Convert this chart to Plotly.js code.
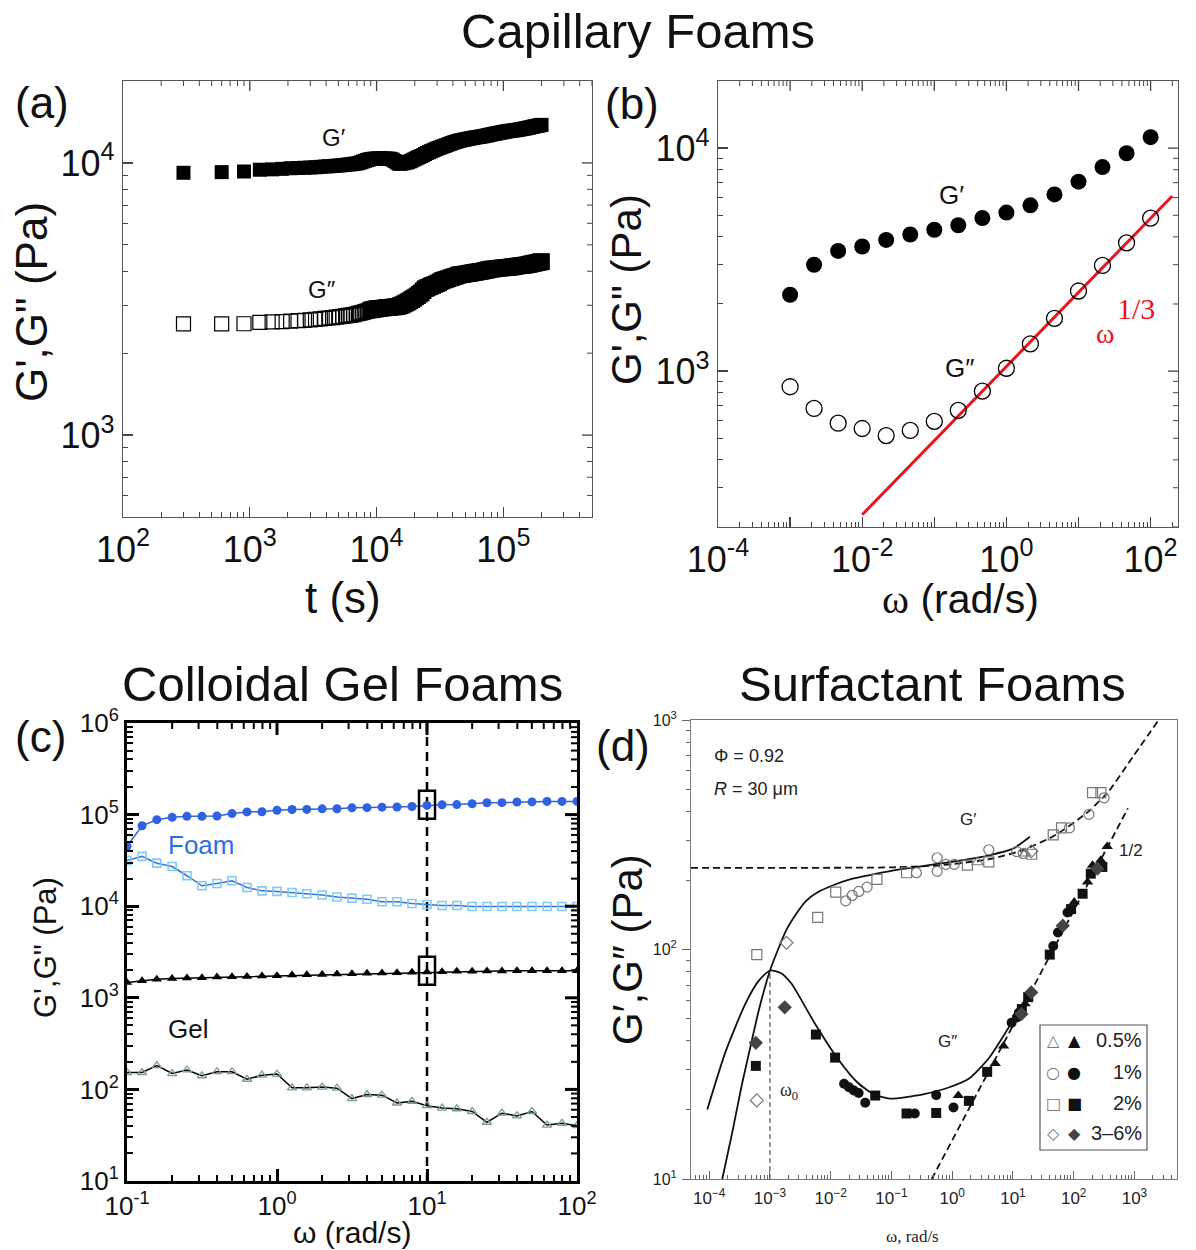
<!DOCTYPE html>
<html><head><meta charset="utf-8">
<script src="https://cdn.plot.ly/plotly-3.0.1.min.js"></script>
<style>html,body{margin:0;padding:0;background:#fff}#chart{width:1196px;height:1250px}</style>
</head><body><div id="chart"></div>
<script>
// ================= DATA =================
// (a) Capillary foam: time sweep  t (s), G' and G'' (Pa)
const aTime = [
 300, 600, 900, 1200, 1500, 1800, 2100, 2400, 2700, 3000,
 3300, 3600, 3900, 4200, 4500, 4800, 5100, 5400, 5700, 6000,
 6300, 6600, 6900, 7200, 7500, 7800, 8100, 8400, 8700, 9000,
 9300, 9600, 9900, 10200, 10500, 10900, 11300, 11700, 12100, 12500,
 12900, 13400, 13900, 14400, 14900, 15400, 15900, 16500, 17100, 17700,
 18300, 18900, 19600, 20300, 21000, 21700, 22500, 23300, 24100, 25000,
 25900, 26800, 27700, 28700, 29700, 30700, 31800, 32900, 34100, 35300,
 36500, 37800, 39100, 40500, 41900, 43400, 44900, 46500, 48100, 49800,
 51500, 53300, 55200, 57100, 59100, 61200, 63300, 65500, 67800, 70200,
 72600, 75100, 77700, 80400, 83200, 86100, 89100, 92200, 95400, 98700,
 102000, 105600, 109300, 113100, 117000, 121100, 125300, 129700, 134200, 138900,
 143700, 148700, 153900, 159300, 164800, 170600, 176500, 182700, 189000, 195600,
 200000];
const aGp = [
 9200, 9250, 9300, 9440, 9470, 9510, 9560, 9580, 9600, 9620,
 9640, 9670, 9700, 9720, 9740, 9770, 9790, 9820, 9840, 9870,
 9890, 9920, 9950, 9980, 10050, 10120, 10180, 10240, 10290, 10330,
 10350, 10360, 10370, 10380, 10390, 10390, 10380, 10380, 10370, 10360,
 10350, 10280, 10170, 10050, 9950, 9930, 9960, 9990, 10030, 10060,
 10130, 10200, 10290, 10370, 10450, 10520, 10600, 10680, 10780, 10870,
 10960, 11040, 11110, 11190, 11270, 11340, 11400, 11470, 11540, 11610,
 11680, 11750, 11820, 11890, 11950, 12010, 12070, 12110, 12150, 12190,
 12230, 12270, 12310, 12350, 12390, 12420, 12450, 12480, 12510, 12550,
 12590, 12630, 12680, 12730, 12770, 12810, 12850, 12890, 12930, 12970,
 13010, 13050, 13090, 13120, 13140, 13170, 13200, 13230, 13270, 13310,
 13350, 13390, 13430, 13480, 13530, 13580, 13630, 13680, 13720, 13770,
 13800];
const aGpp = [
 2560, 2560, 2565, 2595, 2605, 2612, 2624, 2632, 2640, 2650,
 2662, 2672, 2684, 2693, 2702, 2712, 2722, 2732, 2742, 2752,
 2760, 2772, 2785, 2798, 2812, 2826, 2840, 2855, 2868, 2880,
 2892, 2900, 2908, 2915, 2920, 2926, 2931, 2936, 2941, 2946,
 2950, 2954, 2958, 2965, 2975, 2990, 3010, 3035, 3060, 3085,
 3115, 3145, 3180, 3215, 3250, 3290, 3330, 3390, 3447, 3475,
 3500, 3525, 3550, 3575, 3600, 3625, 3660, 3695, 3715, 3735,
 3755, 3775, 3795, 3815, 3835, 3858, 3878, 3887, 3896, 3905,
 3915, 3925, 3935, 3948, 3960, 3970, 3980, 3990, 4000, 4015,
 4030, 4045, 4058, 4070, 4078, 4086, 4094, 4102, 4110, 4116,
 4121, 4126, 4131, 4140, 4150, 4160, 4170, 4180, 4190, 4199,
 4206, 4212, 4225, 4240, 4255, 4270, 4285, 4300, 4315, 4330,
 4340];
const aXTickVals = [1e2, 1e3, 1e4, 1e5];
const aXTickText = ['10<sup>2</sup>', '10<sup>3</sup>', '10<sup>4</sup>', '10<sup>5</sup>'];
const aYTickVals = [1e3, 1e4];
const aYTickText = ['10<sup>3</sup>', '10<sup>4</sup>'];

// (b) Capillary foam: frequency sweep
const bOmega = [0.001, 0.00215, 0.00464, 0.01, 0.0215, 0.0464, 0.1, 0.215, 0.464, 1, 2.15, 4.64, 10, 21.5, 46.4, 100];
const bGp  = [2200, 3000, 3460, 3620, 3875, 4100, 4305, 4510, 4855, 5140, 5540, 6200, 7070, 8225, 9485, 11200];
const bGpp = [851, 680, 584, 553, 514, 542, 595, 667, 813, 1030, 1326, 1725, 2287, 2977, 3760, 4855];
const bFitOmega = [0.01, 200];
const bFitG = [227, 6100];
const bXTickVals = [1e-4, 1e-3, 1e-2, 1e-1, 1, 10, 100];
const bXTickText = ['10<sup>-4</sup>', '', '10<sup>-2</sup>', '', '10<sup>0</sup>', '', '10<sup>2</sup>'];
const bYTickVals = [1e3, 1e4];
const bYTickText = ['10<sup>3</sup>', '10<sup>4</sup>'];

// (c) Colloidal gel foams
const cOmega = [0.1, 0.126, 0.158, 0.2, 0.251, 0.316, 0.398, 0.501, 0.631, 0.794, 1, 1.26, 1.58, 2, 2.51, 3.16, 3.98, 5.01, 6.31, 7.94, 10, 12.6, 15.8, 20, 25.1, 31.6, 39.8, 50.1, 63.1, 79.4, 100];
const cFoamGp = [45000, 75500, 88000, 93400, 95800, 95800, 96500, 102600, 107000, 107500, 111700, 113600, 114000, 115600, 116000, 118600, 119000, 120600, 121000, 122700, 125900, 128000, 128500, 131400, 134800, 135000, 137100, 137500, 139400, 139400, 139400];
const cFoamGpp = [31600, 35000, 29500, 27100, 21500, 16700, 17700, 18960, 16000, 14700, 14500, 14100, 13700, 13250, 12600, 12200, 11900, 11200, 11200, 10700, 10440, 10170, 10170, 9910, 9910, 9910, 9910, 9910, 9910, 9910, 9910];
const cGelGp = [1468, 1531, 1599, 1626, 1640, 1654, 1683, 1697, 1711, 1726, 1740, 1770, 1785, 1801, 1816, 1832, 1848, 1864, 1880, 1896, 1912, 1929, 1945, 1945, 1962, 1962, 1979, 1979, 1979, 1979, 1979];
const cGelGpp = [153, 153, 182, 149, 163, 141, 156, 156, 129, 143, 147, 104, 104, 106, 103, 79.4, 88, 86.5, 71, 74, 66.4, 62.6, 61.5, 57.4, 43.8, 55, 51.4, 57.4, 40.8, 42.6, 40.2];
const cRefOmega = [10, 10];
const cRefG = [10, 1e6];
const cMarkOmega = [10, 10];
const cMarkG = [128000, 1980];
const cXTickVals = [0.1, 1, 10, 100];
const cXTickText = ['10<sup>-1</sup>', '10<sup>0</sup>', '10<sup>1</sup>', '10<sup>2</sup>'];
const cYTickVals = [10, 100, 1e3, 1e4, 1e5, 1e6];
const cYTickText = ['10<sup>1</sup>', '10<sup>2</sup>', '10<sup>3</sup>', '10<sup>4</sup>', '10<sup>5</sup>', '10<sup>6</sup>'];

// (d) Surfactant foams  (open = G', filled = G'')
const dOpenTriX = [2.6, 16];          const dOpenTriY = [240, 262];
const dOpenCirX = [0.0176, 0.0226, 0.029, 0.0397, 0.257, 0.565, 0.565, 0.79, 1.08, 4.0, 11.5, 14.7, 85, 178, 316];
const dOpenCirY = [163, 172, 179, 187, 216, 251, 219, 235, 235, 272, 267, 262, 339, 388, 458];
const dOpenSqX = [6.07e-4, 6.1e-3, 0.0121, 0.0576, 0.177, 1.78, 4.0, 20.3, 46, 63, 204, 280];
const dOpenSqY = [95, 138, 178, 202, 216, 233, 241, 260, 316, 339, 483, 483];
const dOpenDiaX = [6.07e-4, 1.87e-3, 20];
const dOpenDiaY = [22, 107, 268];
const dFillTriX = [1.26, 5.1, 7, 15.8, 102, 169, 204, 278, 355];
const dFillTriY = [23.1, 31.9, 38, 58, 161, 197, 233, 245, 281];
const dFillCirX = [0.0166, 0.02, 0.024, 0.0288, 0.037, 0.242, 0.545, 1.05, 9.5, 11.6, 12.5, 46, 55, 79];
const dFillCirY = [26, 25.1, 24.3, 23.7, 21.5, 19.3, 23.2, 20.5, 48, 50.6, 53, 103.5, 118.5, 145];
const dFillSqX = [5.85e-4, 5.7e-3, 0.0118, 0.054, 0.177, 0.545, 1.88, 3.76, 14, 17.8, 40.3, 90.5, 140, 191, 296];
const dFillSqY = [31.1, 42.6, 33.8, 23.1, 19.3, 19.4, 21.9, 29.3, 55, 62, 95, 150, 175, 214, 229];
const dFillDiaX = [5.85e-4, 1.75e-3, 13.8, 20, 66, 245];
const dFillDiaY = [39.2, 56, 52.4, 65, 127, 225];
const dGpFitX = [1.64e-4, 2.4e-4, 3.47e-4, 4.8e-4, 6.5e-4, 8.2e-4, 1e-3, 1.4e-3, 1.87e-3, 2.8e-3, 3.94e-3, 6e-3, 0.0107, 0.022, 0.0478, 0.1, 0.213, 0.5, 1.22, 4.27, 10, 19];
const dGpFitY = [10, 16, 26, 38, 54, 68, 81, 102, 122, 145, 163, 177, 190, 203, 212, 220, 227, 235, 243, 258, 275, 310];
const dGppFitX = [9.3e-5, 1.86e-4, 3.93e-4, 6.5e-4, 1e-3, 1.5e-3, 2.25e-3, 5.38e-3, 0.0129, 0.0273, 0.0509, 0.095, 0.33, 0.896, 1.89, 4.0, 8.46, 19];
const dGppFitY = [20.1, 35.9, 58, 73, 81, 79, 71.1, 48, 33.6, 26.4, 23.4, 22.4, 23.4, 25.1, 27.4, 33.6, 45.6, 64];
const dGpDashX = [5e-5, 0.1, 0.66, 4.3, 15, 51, 178, 380, 800, 2500];
const dGpDashY = [227, 228, 233, 248, 272, 316, 401, 491, 650, 1000];
const dHalfX = [0.46, 780];
const dHalfY = [10, 412];
const dOmega0X = [1e-3, 1e-3];
const dOmega0Y = [10, 81];
const dXTickVals = [1e-4, 1e-3, 1e-2, 1e-1, 1, 10, 100, 1000];
const dXTickText = ['10<sup>−4</sup>', '10<sup>−3</sup>', '10<sup>−2</sup>', '10<sup>−1</sup>', '10<sup>0</sup>', '10<sup>1</sup>', '10<sup>2</sup>', '10<sup>3</sup>'];
const dYTickVals = [10, 100, 1000];
const dYTickText = ['10<sup>1</sup>', '10<sup>2</sup>', '10<sup>3</sup>'];
const dLegendLabels = ['0.5%', '1%', '2%', '3–6%'];
const dLegendOpen = ['△', '○', '□', '◇'];
const dLegendFilled = ['▲', '●', '■', '◆'];

// ================= RENDERING =================
const W = 1196, H = 1250;
const px = x => x / W, py = y => 1 - y / H;
const SANS = 'Liberation Sans, Arial, Helvetica, sans-serif';
const SERIF = 'Liberation Serif, Times New Roman, serif';
const SYM = 'DejaVu Sans, sans-serif';

// panel boxes in page pixels: [left, right, top, bottom]
const boxA = [123, 592, 81, 517];
const boxB = [718, 1178, 81, 527];
const boxC = [127, 577, 723, 1181];
const boxD = [691, 1177, 720, 1179];
const domX = b => [px(b[0]), px(b[1])];
const domY = b => [py(b[3]), py(b[2])];

const rangeA = {x: [2, 5.699], y: [2.699, 4.301]};
const rangeB = {x: [-4, 2.38], y: [2.301, 4.301]};
const rangeC = {x: [-1, 2], y: [1, 6]};

function minorVals(lo, hi) {
  const v = [];
  for (let e = lo; e < hi; e++) for (let m = 2; m <= 9; m++) v.push(m * Math.pow(10, e));
  return v;
}

function axis(o) {
  return Object.assign({
    type: 'log', showgrid: false, zeroline: false, showline: true,
    tickmode: 'array', fixedrange: true
  }, o);
}

const tickAB = {linecolor: '#555', linewidth: 1.3, ticks: 'inside', ticklen: 10, tickwidth: 1.3, tickcolor: '#444'};
const tickC = {linecolor: '#000', linewidth: 3, ticks: 'inside', ticklen: 12, tickwidth: 3, tickcolor: '#000'};

const mainAx = (st, fontSize, minorLen, minorW, dom, anchor, range, tv, tt, mlo, mhi) => axis(Object.assign({}, st, {
  domain: dom, anchor: anchor, range: range, tickvals: tv, ticktext: tt, mirror: true,
  tickfont: {family: SANS, size: fontSize, color: '#111'}, ticklabelstandoff: 0,
  minor: {ticks: 'inside', ticklen: minorLen, tickwidth: minorW, tickcolor: st.tickcolor, tickmode: 'array', tickvals: minorVals(mlo, mhi)}
}));

const layout = {
  width: W, height: H, margin: {l: 0, r: 0, t: 0, b: 0},
  paper_bgcolor: '#fff', plot_bgcolor: '#fff', showlegend: false,
  font: {family: SANS, color: '#111'},
  xaxis: mainAx(tickAB, 36, 5, 1, domX(boxA), 'y', rangeA.x, aXTickVals, aXTickText, 2, 6),
  yaxis: mainAx(tickAB, 36, 5, 1, domY(boxA), 'x', rangeA.y, aYTickVals, aYTickText, 2, 5),
  xaxis2: mainAx(tickAB, 36, 5, 1, domX(boxB), 'y2', rangeB.x, bXTickVals, bXTickText, -4, 3),
  yaxis2: mainAx(tickAB, 36, 5, 1, domY(boxB), 'x2', rangeB.y, bYTickVals, bYTickText, 2, 5),
  xaxis3: mainAx(tickC, 26, 6, 2, domX(boxC), 'y3', rangeC.x, cXTickVals, cXTickText, -1, 2),
  yaxis3: mainAx(tickC, 26, 6, 2, domY(boxC), 'x3', rangeC.y, cYTickVals, cYTickText, 1, 6),
  xaxis4: axis({domain: domX(boxD), anchor: 'y4', range: [-4.3, 3.7], tickvals: dXTickVals, ticktext: dXTickText,
    linecolor: '#777', linewidth: 1, mirror: true, ticks: 'inside', ticklen: 8, tickwidth: 1, tickcolor: '#666',
    tickfont: {family: SANS, size: 17, color: '#222'}, ticklabelstandoff: 4,
    minor: {ticks: 'inside', ticklen: 4, tickwidth: 1, tickcolor: '#666', tickmode: 'array', tickvals: minorVals(-5, 4)}}),
  yaxis4: axis({domain: domY(boxD), anchor: 'x4', range: [1, 3], tickvals: dYTickVals, ticktext: dYTickText,
    linecolor: '#777', linewidth: 1, mirror: true, ticks: 'outside', ticklen: 8, tickwidth: 1, tickcolor: '#666',
    tickfont: {family: SANS, size: 16, color: '#222'}, ticklabelstandoff: 2,
    minor: {ticks: 'outside', ticklen: 4, tickwidth: 1, tickcolor: '#666', tickmode: 'array', tickvals: minorVals(1, 3)}}),
  annotations: [],
  shapes: []
};

// mirrored tick marks on the top and right edges of panels (a), (b), (c)
function mirrorTicks(xr, yr, box, rng, xMaj, xMin, yMaj, yMin, majLen, minLen, majW, minW, color) {
  const inside = (v, r) => { const l = Math.log10(v); return l > r[0] + 1e-6 && l < r[1] - 1e-6; };
  const addX = (vals, len, w) => vals.filter(v => inside(v, rng.x)).forEach(v => layout.shapes.push({
    type: 'line', xref: xr, yref: 'paper', x0: v, x1: v, y0: py(box[2]), y1: py(box[2] + len), line: {color: color, width: w}}));
  const addY = (vals, len, w) => vals.filter(v => inside(v, rng.y)).forEach(v => layout.shapes.push({
    type: 'line', xref: 'paper', yref: yr, y0: v, y1: v, x0: px(box[1]), x1: px(box[1] - len), line: {color: color, width: w}}));
  addX(xMaj, majLen, majW); addX(xMin, minLen, minW);
  addY(yMaj, majLen, majW); addY(yMin, minLen, minW);
}
mirrorTicks('x', 'y', boxA, rangeA, aXTickVals, minorVals(2, 6), aYTickVals, minorVals(2, 5), 10, 5, 1.3, 1, '#444');
mirrorTicks('x2', 'y2', boxB, rangeB, bXTickVals, minorVals(-4, 3), bYTickVals, minorVals(2, 5), 10, 5, 1.3, 1, '#444');
mirrorTicks('x3', 'y3', boxC, rangeC, cXTickVals, minorVals(-1, 2), cYTickVals, minorVals(1, 6), 12, 6, 3, 2, '#000');

const ann = (o) => layout.annotations.push(Object.assign({showarrow: false, xanchor: 'center', yanchor: 'middle'}, o));
const pAnn = (x, y, text, size, extra) => ann(Object.assign({xref: 'paper', yref: 'paper', x: px(x), y: py(y), text: text, font: {family: SANS, size: size, color: '#111'}}, extra || {}));

// headings
pAnn(638, 31, 'Capillary Foams', 49);
pAnn(343, 684, 'Colloidal Gel Foams', 49);
pAnn(932, 684, 'Surfactant Foams', 49);
// panel letters
pAnn(42, 102, '(a)', 44);
pAnn(632, 104, '(b)', 44);
pAnn(40, 736, '(c)', 44);
pAnn(623, 745, '(d)', 44);
// axis titles
pAnn(31, 302, 'G\',G" (Pa)', 44, {textangle: -90});
pAnn(343, 597, 't (s)', 44);
pAnn(626, 290, 'G\',G" (Pa)', 42, {textangle: -90});
pAnn(960, 599, '<span style="font-family:Liberation Serif">ω</span> (rad/s)', 41);
pAnn(45, 948, 'G\',G" (Pa)', 31, {textangle: -90});
pAnn(352, 1232, 'ω (rad/s)', 30);
pAnn(627, 950, 'G′,G″ (Pa)', 42, {textangle: -90});
pAnn(912, 1236, 'ω, rad/s', 17, {font: {family: SERIF, size: 17, color: '#222'}});

// in-plot labels
const dAnn = (xr, yr, x, y, text, font, extra) => ann(Object.assign({xref: xr, yref: yr, x: x, y: y, text: text, font: font}, extra || {}));
dAnn('x', 'y', 3.667, 4.095, 'G′', {family: SANS, size: 24, color: '#111'});
dAnn('x', 'y', 3.57, 3.536, 'G″', {family: SANS, size: 24, color: '#111'});
dAnn('x2', 'y2', -0.763, 3.792, 'G′', {family: SANS, size: 26, color: '#111'});
dAnn('x2', 'y2', -0.656, 3.016, 'G″', {family: SANS, size: 26, color: '#111'});
dAnn('x2', 'y2', 1.37, 3.17, 'ω', {family: SERIF, size: 28, color: '#e8141c'});
dAnn('x2', 'y2', 1.80, 3.28, '1/3', {family: SERIF, size: 30, color: '#e8141c'});
dAnn('x3', 'y3', -0.74, 4.672, 'Foam', {family: SANS, size: 26, color: '#2f6ee0'}, {xanchor: 'left'});
dAnn('x3', 'y3', -0.74, 2.664, 'Gel', {family: SANS, size: 26, color: '#111'}, {xanchor: 'left'});
dAnn('x4', 'y4', -3.95, 2.845, 'Φ = 0.92', {family: SANS, size: 18, color: '#222'}, {xanchor: 'left'});
dAnn('x4', 'y4', -3.95, 2.699, '<i>R</i> = 30 μm', {family: SANS, size: 18, color: '#222'}, {xanchor: 'left'});
dAnn('x4', 'y4', 0.26, 2.568, 'G′', {family: SANS, size: 17, color: '#222'});
dAnn('x4', 'y4', -0.08, 1.60, 'G″', {family: SANS, size: 17, color: '#222'});
dAnn('x4', 'y4', 2.94, 2.433, '1/2', {family: SANS, size: 17, color: '#222'});
dAnn('x4', 'y4', -2.68, 1.38, 'ω<sub>0</sub>', {family: SERIF, size: 18, color: '#222'});

// (d) legend box
layout.shapes.push({type: 'rect', xref: 'paper', yref: 'paper', x0: px(1040), x1: px(1147), y0: py(1150), y1: py(1025), line: {color: '#555', width: 1.2}, fillcolor: 'rgba(0,0,0,0)'});
const legRows = [1040, 1072, 1103, 1133];
dLegendLabels.forEach((lab, i) => {
  pAnn(1053, legRows[i], dLegendOpen[i], 16, {font: {family: SYM, size: 16, color: '#777'}});
  pAnn(1074, legRows[i], dLegendFilled[i], 16, {font: {family: SYM, size: 16, color: i === 3 ? '#444' : '#111'}});
  pAnn(1144, legRows[i], lab, 20, {xanchor: 'right', font: {family: SANS, size: 20, color: '#222'}});
});

// (c) highlight rectangles around the omega = 10 rad/s points (16 x 28 px boxes)
const cPxPerDecX = (boxC[1] - boxC[0]) / 3, cPxPerDecY = (boxC[3] - boxC[2]) / 5;
cMarkOmega.forEach((w, i) => layout.shapes.push({type: 'rect', xref: 'x3', yref: 'y3',
  x0: w * Math.pow(10, -8 / cPxPerDecX), x1: w * Math.pow(10, 8 / cPxPerDecX),
  y0: cMarkG[i] * Math.pow(10, -14 / cPxPerDecY), y1: cMarkG[i] * Math.pow(10, 14 / cPxPerDecY),
  line: {color: '#000', width: 2.5}, fillcolor: 'rgba(0,0,0,0)'}));

// ---------- traces ----------
const traces = [];
const sc = (o) => traces.push(Object.assign({type: 'scatter', hoverinfo: 'skip'}, o));

// (a)  open-square outlines thicken where the sampling is dense so the band reads solid
const aOpenLine = aTime.map(t => (t < 9000 ? 1.2 : 2.6));
sc({x: aTime, y: aGpp, xaxis: 'x', yaxis: 'y', mode: 'markers', marker: {symbol: 'square-open', size: 14, color: '#000', line: {width: aOpenLine, color: '#000'}}});
sc({x: aTime, y: aGp, xaxis: 'x', yaxis: 'y', mode: 'markers', marker: {symbol: 'square', size: 14, color: '#000', line: {width: 0}}});
// (b)
sc({x: bFitOmega, y: bFitG, xaxis: 'x2', yaxis: 'y2', mode: 'lines', line: {color: '#e8141c', width: 3}});
sc({x: bOmega, y: bGpp, xaxis: 'x2', yaxis: 'y2', mode: 'markers', marker: {symbol: 'circle-open', size: 16, color: '#000', line: {width: 1.3, color: '#000'}}});
sc({x: bOmega, y: bGp, xaxis: 'x2', yaxis: 'y2', mode: 'markers', marker: {symbol: 'circle', size: 16, color: '#000', line: {width: 0}}});
// (c)
sc({x: cRefOmega, y: cRefG, xaxis: 'x3', yaxis: 'y3', mode: 'lines', line: {color: '#000', width: 2.5, dash: '9px,6px'}});
sc({x: cOmega, y: cFoamGp, xaxis: 'x3', yaxis: 'y3', mode: 'lines+markers', line: {color: '#2f62e0', width: 1.5}, marker: {symbol: 'circle', size: 9, color: '#2f62e0'}});
sc({x: cOmega, y: cFoamGpp, xaxis: 'x3', yaxis: 'y3', mode: 'lines+markers', line: {color: '#3b6fdc', width: 1.5}, marker: {symbol: 'square-open', size: 8, color: '#7fcbf2', line: {width: 1.6, color: '#7fcbf2'}}});
sc({x: cOmega, y: cGelGpp, xaxis: 'x3', yaxis: 'y3', mode: 'lines+markers', line: {color: '#000', width: 1.5}, marker: {symbol: 'triangle-up-open', size: 8, color: '#7a9a9a', line: {width: 1.3, color: '#7a9a9a'}}});
sc({x: cOmega, y: cGelGp, xaxis: 'x3', yaxis: 'y3', mode: 'lines+markers', line: {color: '#000', width: 1.5}, marker: {symbol: 'triangle-up', size: 9, color: '#000'}});
// (d)
sc({x: dGpDashX, y: dGpDashY, xaxis: 'x4', yaxis: 'y4', mode: 'lines', line: {color: '#111', width: 1.8, dash: '7px,4px', shape: 'spline', smoothing: 0.6}});
sc({x: dHalfX, y: dHalfY, xaxis: 'x4', yaxis: 'y4', mode: 'lines', line: {color: '#111', width: 1.8, dash: '7px,4px'}});
sc({x: dOmega0X, y: dOmega0Y, xaxis: 'x4', yaxis: 'y4', mode: 'lines', line: {color: '#333', width: 1, dash: '5px,3px'}});
sc({x: dGpFitX, y: dGpFitY, xaxis: 'x4', yaxis: 'y4', mode: 'lines', line: {color: '#111', width: 1.8, shape: 'spline', smoothing: 0.6}});
sc({x: dGppFitX, y: dGppFitY, xaxis: 'x4', yaxis: 'y4', mode: 'lines', line: {color: '#111', width: 1.8, shape: 'spline', smoothing: 0.6}});
const openMk = (sym) => ({symbol: sym, size: 10, color: '#777', line: {width: 1.2, color: '#777'}});
sc({x: dOpenTriX, y: dOpenTriY, xaxis: 'x4', yaxis: 'y4', mode: 'markers', marker: openMk('triangle-up-open')});
sc({x: dOpenCirX, y: dOpenCirY, xaxis: 'x4', yaxis: 'y4', mode: 'markers', marker: openMk('circle-open')});
sc({x: dOpenSqX, y: dOpenSqY, xaxis: 'x4', yaxis: 'y4', mode: 'markers', marker: openMk('square-open')});
sc({x: dOpenDiaX, y: dOpenDiaY, xaxis: 'x4', yaxis: 'y4', mode: 'markers', marker: openMk('diamond-open')});
sc({x: dFillTriX, y: dFillTriY, xaxis: 'x4', yaxis: 'y4', mode: 'markers', marker: {symbol: 'triangle-up', size: 10, color: '#111'}});
sc({x: dFillCirX, y: dFillCirY, xaxis: 'x4', yaxis: 'y4', mode: 'markers', marker: {symbol: 'circle', size: 10, color: '#111'}});
sc({x: dFillSqX, y: dFillSqY, xaxis: 'x4', yaxis: 'y4', mode: 'markers', marker: {symbol: 'square', size: 10, color: '#111'}});
sc({x: dFillDiaX, y: dFillDiaY, xaxis: 'x4', yaxis: 'y4', mode: 'markers', marker: {symbol: 'diamond', size: 11, color: '#444'}});

Plotly.newPlot('chart', traces, layout, {displayModeBar: false, staticPlot: true});
</script></body></html>
